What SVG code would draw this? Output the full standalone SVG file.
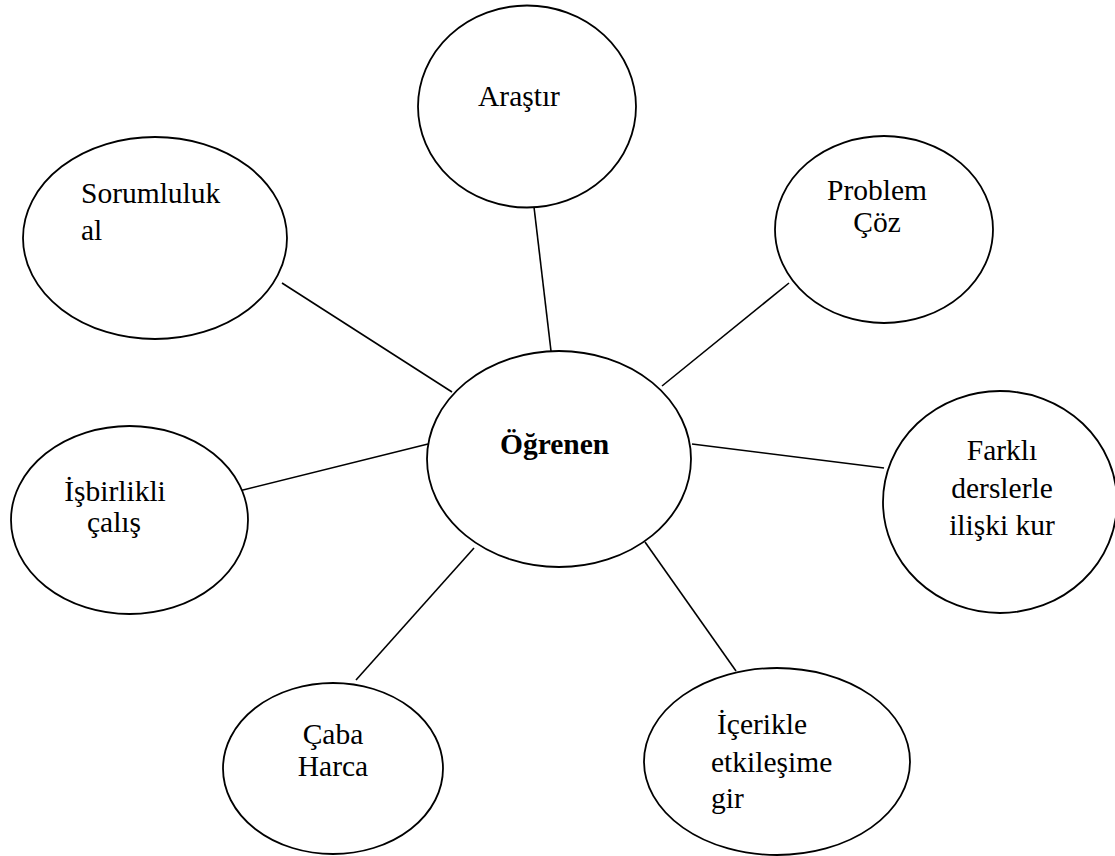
<svg xmlns="http://www.w3.org/2000/svg" width="1115" height="856" viewBox="0 0 1115 856">
<style>
.node{fill:#fff;stroke:#000;stroke-width:1.8}
.edge{stroke:#000;stroke-width:1.6;fill:none}
text{font-family:"Liberation Serif","Times New Roman",serif;font-size:29.5px;fill:#000}
.c{text-anchor:middle}
.b{font-weight:bold}
</style>
<rect width="1115" height="856" fill="#fff"/>
<g id="connectors">
<line class="edge" x1="534" y1="207" x2="551" y2="351"/>
<line class="edge" x1="282" y1="283" x2="452" y2="392"/>
<line class="edge" x1="789" y1="283" x2="662" y2="386"/>
<line class="edge" x1="692" y1="444" x2="884" y2="468"/>
<line class="edge" x1="428" y1="444" x2="239" y2="491"/>
<line class="edge" x1="474" y1="548" x2="356" y2="680"/>
<line class="edge" x1="645" y1="542" x2="736" y2="671"/>
</g>
<g id="node-center">
<ellipse class="node" cx="559" cy="459" rx="132" ry="108"/>
<text class="b" x="500" y="454">Öğrenen</text>
</g>
<g id="node-arastir">
<ellipse class="node" cx="527" cy="106.5" rx="109" ry="101"/>
<text x="478" y="106">Araştır</text>
</g>
<g id="node-sorumluluk">
<ellipse class="node" cx="155" cy="238" rx="132" ry="101"/>
<text x="81" y="203">Sorumluluk</text>
<text x="81" y="240">al</text>
</g>
<g id="node-problem">
<ellipse class="node" cx="884" cy="229.5" rx="109" ry="93.5"/>
<text class="c" x="877" y="200">Problem</text>
<text class="c" x="877" y="232">Çöz</text>
</g>
<g id="node-farkli">
<ellipse class="node" cx="1000" cy="502" rx="117" ry="111"/>
<text class="c" x="1002" y="460">Farklı</text>
<text class="c" x="1002" y="498">derslerle</text>
<text class="c" x="1002" y="535">ilişki kur</text>
</g>
<g id="node-isbirlikli">
<ellipse class="node" cx="129.5" cy="520" rx="118.5" ry="94"/>
<text class="c" x="115" y="501">İşbirlikli</text>
<text class="c" x="114" y="532">çalış</text>
</g>
<g id="node-caba">
<ellipse class="node" cx="333" cy="768.5" rx="110" ry="85.5"/>
<text class="c" x="333" y="744">Çaba</text>
<text class="c" x="333" y="776">Harca</text>
</g>
<g id="node-icerikle">
<ellipse class="node" cx="777" cy="761.5" rx="133" ry="93.5"/>
<text x="717" y="734">İçerikle</text>
<text x="711" y="772">etkileşime</text>
<text x="711" y="808">gir</text>
</g>
</svg>
